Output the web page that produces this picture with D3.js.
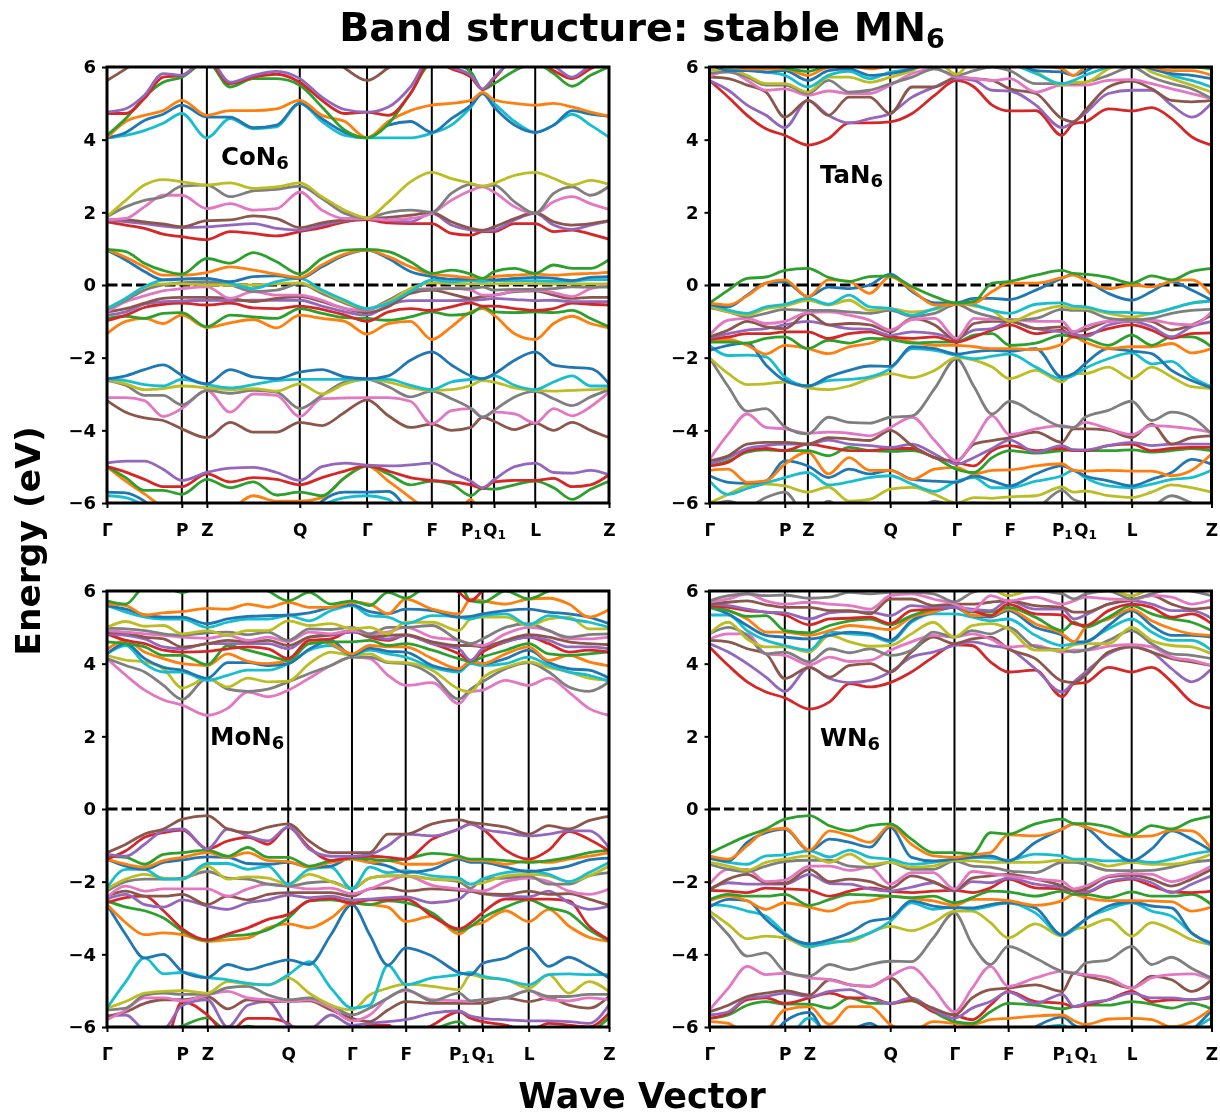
<!DOCTYPE html>
<html>
<head>
<meta charset="utf-8">
<script src="https://cdn.jsdelivr.net/npm/d3@7"></script>
<style>
  body { margin: 0; background: #fff; }
  svg { filter: blur(0.5px); }
  text { font-family: "DejaVu Sans", sans-serif; font-weight: bold; fill: #000; }
</style>
</head>
<body>
<svg id="chart" width="1220" height="1116"></svg>
<script>
const tickLabels = ['Γ', 'P', 'Z', 'Q', 'Γ', 'F', 'P1', 'Q1', 'L', 'Z'];
const energyTicks = [-6, -4, -2, 0, 2, 4, 6];

// sample grid along the k-path, in units of tick index (same for all panels)
const kSamples = [0, .25, .5, .75, 1, 2, 2.25, 2.5, 2.75, 3, 3.33, 3.67, 4, 4.33, 4.67, 5, 5.5, 6, 6.5, 7, 7.5, 8, 8.25, 8.5, 8.75, 9];

const coTicks = [0, .149, .199, .384, .518, .647, .725, .771, .853, 1];
const taTicks = [0, .150, .196, .360, .492, .598, .702, .748, .841, 1];
const moTicks = [0, .150, .200, .361, .488, .595, .701, .748, .840, 1];
const wTicks = [0, .150, .199, .360, .488, .595, .703, .749, .841, 1];

// bands run from lowest to highest, colours follow the tab10 cycle
const coBands = [
  [-5.8,-5.85,-6.1,-6.6,-7,-7,-7,-7,-7,-7,-6.1,-5.85,-5.8,-5.9,-6.6,-7,-7,-7,-7,-7,-7,-7,-7,-7,-7,-7],
  [-5.7,-5.72,-5.95,-6.4,-7,-7,-7,-7,-7,-7,-5.95,-5.7,-5.7,-5.68,-6.3,-7,-7,-7,-7,-7,-7,-7,-7,-7,-7,-7],
  [-5,-5.4,-5.75,-6.05,-6.05,-6.5,-6.2,-5.8,-5.95,-5.95,-5.85,-5.3,-4.98,-5.4,-5.85,-6.3,-6.6,-5.9,-6.4,-6.05,-6.5,-6.6,-6.5,-6.1,-6.5,-6.5],
  [-5,-5.3,-5.65,-5.65,-5.76,-5.35,-5.58,-5.42,-5.78,-5.7,-5.8,-5.3,-4.98,-5.2,-5.5,-5.4,-5.48,-5.8,-5.6,-5.62,-5.5,-5.4,-5.58,-5.9,-5.62,-5.4],
  [-5,-5.15,-5.35,-5.55,-5.55,-5.2,-5.42,-5.3,-5.35,-5.5,-5.3,-5.12,-4.98,-5.12,-5.3,-5.38,-5.42,-5.5,-5.6,-5.42,-5.38,-5.38,-5.32,-5.55,-5.5,-5.22],
  [-4.9,-4.85,-4.85,-5.07,-5.38,-5.16,-5.04,-5.02,-5.16,-5.38,-5,-4.9,-4.96,-4.98,-4.95,-4.9,-5.16,-5.4,-5.58,-5.36,-5,-4.9,-5.16,-5.18,-5.1,-5.22],
  [-3.18,-3.5,-3.66,-3.73,-3.96,-4.2,-3.78,-4.05,-4.05,-3.78,-3.87,-3.5,-3.16,-3.6,-3.92,-3.83,-4,-3.92,-3.64,-3.75,-3.98,-3.8,-4,-3.78,-4,-4.2],
  [-3.1,-3.1,-3.18,-3.62,-3.4,-2.9,-3.5,-3,-3.04,-3.62,-3.13,-3.11,-3.1,-3.1,-3.2,-3.82,-3.46,-3.4,-3.64,-3.5,-3.55,-3.8,-3.4,-3.6,-3.35,-2.95],
  [-2.63,-2.76,-3.04,-3.04,-3.3,-2.9,-2.98,-2.9,-2.95,-3.4,-3.04,-2.67,-2.6,-2.8,-3.08,-2.92,-3.13,-3.4,-3.64,-3.45,-3.08,-2.93,-3.13,-3.32,-3.08,-2.88],
  [-2.6,-2.72,-2.88,-2.85,-2.78,-2.83,-2.88,-2.85,-2.92,-2.72,-3,-2.72,-2.6,-2.67,-2.83,-2.9,-2.88,-2.76,-2.63,-2.67,-2.83,-2.9,-2.92,-2.9,-2.88,-2.85],
  [-2.58,-2.63,-2.74,-2.78,-2.6,-2.74,-2.83,-2.74,-2.63,-2.6,-2.6,-2.6,-2.6,-2.6,-2.76,-2.88,-2.67,-2.6,-2.58,-2.5,-2.76,-2.88,-2.67,-2.5,-2.78,-2.78],
  [-2.58,-2.5,-2.33,-2.2,-2.48,-2.72,-2.33,-2.53,-2.58,-2.4,-2.33,-2.53,-2.58,-2.5,-2.07,-1.84,-2.2,-2.5,-2.58,-2.45,-2.07,-1.84,-2.2,-2.27,-2.3,-2.72],
  [-1.34,-1,-.92,-1.06,-.83,-1.17,-1.04,-.95,-1.18,-.83,-.92,-1,-1.35,-1.06,-1,-1.5,-1.15,-.74,-.65,-.83,-1.34,-1.5,-1.06,-.86,-1.06,-1.18],
  [-.92,-.86,-.92,-.78,-.76,-1.15,-.83,-.88,-.92,-.65,-.78,-.9,-.92,-.97,-.88,-.74,-.83,-.78,-.6,-.74,-.76,-.74,-.76,-.7,-.92,-1.15],
  [-.98,-.83,-.62,-.53,-.5,-.55,-.5,-.63,-.65,-.58,-.67,-.83,-1,-.74,-.65,-.7,-.6,-.49,-.58,-.58,-.65,-.7,-.65,-.5,-.53,-.55],
  [-.83,-.74,-.53,-.46,-.44,-.42,-.43,-.42,-.42,-.42,-.58,-.74,-.83,-.55,-.43,-.43,-.43,-.42,-.4,-.37,-.4,-.43,-.42,-.46,-.46,-.46],
  [-.74,-.65,-.5,-.37,-.34,-.34,-.37,-.46,-.37,-.32,-.46,-.65,-.76,-.6,-.23,-.14,-.25,-.37,-.32,-.28,-.18,-.16,-.28,-.37,-.34,-.34],
  [-.74,-.46,-.3,-.16,-.1,-.05,-.37,-.18,-.28,-.28,-.42,-.65,-.7,-.42,-.14,-.1,-.1,-.14,-.28,-.28,-.16,-.14,-.21,-.32,-.1,0],
  [-.67,-.42,-.14,0,.06,.09,0,-.18,-.14,.03,-.23,-.5,-.67,-.42,-.14,-.12,-.1,-.1,-.06,-.14,-.12,-.12,-.1,-.05,-.06,-.06],
  [-.65,-.37,-.06,.03,.03,0,0,0,.03,.06,-.18,-.46,-.65,-.46,-.1,.06,.04,.03,.03,.03,.04,.04,.03,.03,.03,.04],
  [-.65,-.37,-.05,.14,.17,.17,.05,-.1,.09,.18,-.14,-.42,-.65,-.5,-.18,.14,.09,.12,.1,.12,.12,.12,.1,.1,.15,.15],
  [.96,.69,.37,.14,.16,.18,.09,.23,.25,.18,.5,.82,.96,.73,.37,.23,.16,.16,.18,.14,.18,.21,.18,.12,.21,.23],
  [.98,.76,.5,.27,.27,.34,.5,.41,.3,.21,.55,.85,.96,.78,.5,.3,.25,.2,.18,.23,.27,.3,.27,.3,.32,.35],
  [.98,.92,.6,.4,.3,.73,.6,.89,.64,.3,.73,.96,.98,.92,.64,.32,.41,.3,.18,.37,.46,.32,.55,.46,.46,.7],
  [1.74,1.65,1.56,1.4,1.33,1.25,1.47,1.42,1.35,1.47,1.58,1.74,1.8,1.71,1.69,1.69,1.42,1.37,1.47,1.47,1.69,1.69,1.47,1.51,1.4,1.26],
  [1.77,1.74,1.69,1.62,1.58,1.6,1.65,1.69,1.56,1.51,1.65,1.77,1.83,1.77,1.74,1.97,1.65,1.51,1.49,1.51,1.79,1.97,1.65,1.53,1.65,1.76],
  [1.79,1.79,1.74,1.68,1.6,1.77,1.79,1.9,1.83,1.58,1.71,1.79,1.83,1.86,1.92,1.99,1.74,1.56,1.51,1.6,1.83,1.99,1.74,1.65,1.69,1.77],
  [1.8,1.83,2.15,2.47,2.47,2.1,2.24,2.06,2.1,2.56,2.06,1.83,1.83,1.79,1.83,1.97,2.33,2.6,2.7,2.56,2.15,1.97,2.29,2.43,2.24,2.08],
  [1.88,2.15,2.33,2.43,2.72,2.75,2.43,2.59,2.63,2.72,2.38,1.97,1.85,2,2.06,2,2.52,2.77,2.72,2.75,2.29,1.97,2.52,2.7,2.47,2.72],
  [1.88,2.33,2.75,2.9,2.84,2.75,2.81,2.66,2.7,2.81,2.43,2.06,1.85,2.29,2.84,3.1,2.93,2.8,2.72,2.8,3.02,3.1,2.93,2.75,2.88,2.77],
  [4.05,4.12,4.25,4.45,4.72,4.05,4.58,4.3,4.35,5,4.5,4.12,4.05,4.05,4.05,4.18,4.4,4.9,5.27,5,4.5,4.2,4.4,4.7,4.4,4.07],
  [4.05,4.2,4.53,4.7,4.95,4.62,4.62,4.33,4.4,5,4.58,4.2,4.05,4.4,4.5,4.2,4.58,4.95,5.27,4.9,4.4,4.2,4.4,4.8,4.7,4.64],
  [4.05,4.5,4.67,4.8,5.08,4.67,4.8,4.8,4.85,5.08,4.67,4.5,4.05,4.5,4.8,4.95,5,5.08,5.3,5.1,5,4.95,5,4.9,4.76,4.65],
  [4.12,4.58,5.17,5.58,5.72,6.15,5.45,5.68,5.68,5.5,4.9,4.26,4.05,4.44,5.27,6.1,6.1,5.86,5.38,5.54,5.9,6.1,5.82,5.47,5.77,6],
  [4.72,4.72,5.13,5.72,5.77,6.2,5.54,5.72,5.8,5.58,5.08,4.72,4.76,4.67,5.27,6.2,5.95,5.72,5.38,5.68,6.2,6.2,5.9,5.68,5.95,6.2],
  [4.76,4.85,5.22,5.82,5.77,6.3,5.58,5.77,5.88,5.68,5.17,4.83,4.76,4.9,5.45,6.3,6,5.77,5.4,5.72,6.2,6.3,6.04,5.72,6.04,6.2],
  [5.63,5.95,6.3,6.5,6.5,6.5,6.5,6.5,6.5,6.5,6.5,5.97,5.63,5.98,6.4,6.5,6.5,6.5,6.5,6.5,6.5,6.5,6.5,6.5,6.5,6.5]
];

const taBands = [
  [-6.1,-5.95,-6.1,-5.85,-5.7,-6.4,-5.95,-6.4,-6.5,-6.5,-6.3,-5.95,-6.1,-6,-6.2,-6.1,-6.1,-5.65,-5.9,-6,-6.1,-6.2,-6.1,-5.8,-6,-6.2],
  [-6,-5.76,-5.53,-5.48,-5.53,-5.7,-5.56,-5.95,-5.9,-5.62,-5.57,-5.76,-6,-5.85,-5.87,-5.83,-5.8,-5.56,-5.7,-5.67,-5.8,-5.85,-5.7,-5.5,-5.58,-5.7],
  [-5.39,-5.76,-5.6,-5.45,-5.3,-5.16,-5.5,-5.42,-5.3,-5.25,-5.48,-5.68,-5.4,-5.3,-5.58,-5.58,-5.4,-5.25,-5.1,-5.3,-5.53,-5.58,-5.48,-5.35,-5.3,-5.1],
  [-5.25,-5.43,-5.46,-5.39,-4.84,-4.98,-5.3,-5.07,-5.2,-5.1,-5.35,-5.4,-5.43,-5.25,-5.39,-5.53,-5.2,-4.98,-5.1,-5.25,-5.39,-5.53,-5.35,-5.16,-4.8,-4.93],
  [-5.1,-5.07,-5.43,-5.39,-4.93,-4.6,-5.2,-4.75,-5.1,-5.1,-5.35,-5.07,-5.02,-5.2,-5.1,-5.09,-4.98,-4.92,-5.1,-5.12,-5.1,-5.12,-5.12,-5.25,-5.1,-4.65],
  [-4.98,-4.84,-4.6,-4.54,-4.56,-4.56,-4.7,-4.47,-4.56,-4.58,-4.56,-4.75,-5.07,-5.16,-4.75,-4.56,-4.63,-4.56,-4.54,-4.56,-4.56,-4.54,-4.6,-4.56,-4.5,-4.56],
  [-4.98,-4.88,-4.56,-4.5,-4.56,-4.38,-4.47,-4.56,-4.56,-4.5,-4.5,-4.75,-4.88,-4.98,-4.56,-4.42,-4.56,-4.5,-4.56,-4.56,-4.42,-4.38,-4.56,-4.5,-4.47,-4.47],
  [-4.92,-4.75,-4.5,-4.42,-4.38,-4.38,-4.27,-4.38,-4.42,-4.47,-4.38,-4.65,-4.93,-4.75,-4.5,-4.27,-4.6,-4.42,-4.54,-4.54,-4.42,-4.33,-4.42,-4.38,-4.38,-4.38],
  [-4.84,-4.7,-4.38,-4.33,-4.33,-4.38,-4.2,-4.24,-4.28,-4,-4.42,-4.75,-4.84,-4.38,-4.28,-4.2,-4.05,-4.33,-3.96,-3.96,-4,-4.2,-3.83,-4.38,-4.2,-4.15],
  [-4.8,-4.1,-3.55,-3.92,-3.96,-4.08,-4.05,-4.08,-4.15,-3.92,-3.64,-4.28,-4.84,-4.28,-3.6,-4.12,-3.96,-3.87,-3.92,-3.78,-3.96,-4.12,-3.87,-3.9,-3.96,-4.05],
  [-2,-2.8,-3.47,-3.4,-3.9,-4.1,-3.64,-3.78,-3.8,-3.64,-3.6,-2.85,-2.03,-2.8,-3.55,-3.2,-3.55,-3.9,-3.92,-3.64,-3.45,-3.2,-3.73,-3.5,-3.64,-4.1],
  [-2,-2.44,-2.74,-2.72,-2.67,-2.83,-2.88,-2.78,-2.58,-2.44,-2.55,-2.35,-2,-2.07,-2.26,-2.58,-2.35,-2.67,-2.44,-2.44,-2.26,-2.58,-2.26,-2.53,-2.8,-2.85],
  [-1.66,-1.94,-1.93,-1.98,-2.53,-2.78,-2.63,-2.6,-2.53,-2.3,-1.75,-1.8,-1.94,-2.03,-1.96,-1.9,-2.26,-2.58,-2.49,-2.3,-2.03,-1.87,-2.17,-2.1,-2.53,-2.8],
  [-1.8,-1.66,-1.6,-2.2,-2.63,-2.78,-2.53,-2.35,-2.23,-2.24,-1.7,-1.75,-1.9,-1.84,-1.8,-1.82,-1.75,-2.53,-2.44,-2.17,-1.75,-1.82,-1.89,-2.35,-2.63,-2.83],
  [-1.57,-1.5,-1.66,-1.9,-1.66,-1.75,-1.89,-1.7,-1.61,-1.43,-1.57,-1.66,-1.66,-1.7,-1.75,-1.75,-1.78,-1.63,-1.43,-1.57,-1.75,-1.7,-1.7,-1.61,-1.87,-1.75],
  [-1.57,-1.57,-1.6,-1.47,-1.43,-1.75,-1.52,-1.6,-1.47,-1.5,-1.6,-1.57,-1.57,-1.38,-1.34,-1.66,-1.6,-1.38,-1.43,-1.47,-1.66,-1.38,-1.66,-1.43,-1.43,-1.7],
  [-1.5,-1.43,-1.34,-1.34,-1.29,-1.29,-1.47,-1.34,-1.29,-1.43,-1.47,-1.43,-1.57,-1.43,-1.24,-1.1,-1.34,-1.24,-1.43,-1.38,-1.2,-1.1,-1.24,-1.47,-1.34,-1.32],
  [-1.45,-1.34,-1.24,-1.2,-1.1,-1,-1.1,-1.2,-1.22,-1.38,-1.29,-1.34,-1.47,-1.24,-1.2,-1,-1.2,-1.29,-1.34,-1.43,-1.1,-1,-1.15,-1.43,-1.15,-1],
  [-1.43,-1.24,-1,-1.15,-1.2,-.78,-1.1,-1.06,-1.1,-1.29,-.92,-1.1,-1.52,-1.06,-1,-1,-1.2,-1.15,-1.29,-1.24,-1,-.95,-1,-1.24,-1.1,-.83],
  [-1.38,-.97,-.92,-1.06,-1,-.76,-.74,-.83,-.97,-1.24,-.95,-.92,-1.47,-.92,-.95,-.95,-1,-1,-1.29,-1.15,-1,-.98,-.97,-1.06,-1.1,-.74],
  [-.62,-.74,-.88,-.78,-.67,-.7,-.7,-.74,-.78,-.7,-.86,-.78,-.53,-.74,-.88,-.97,-.92,-.67,-.7,-.7,-.92,-.97,-.92,-.78,-.7,-.67],
  [-.58,-.74,-.83,-.65,-.58,-.42,-.55,-.42,-.7,-.65,-.74,-.67,-.5,-.58,-.7,-1,-.74,-.58,-.65,-.65,-.78,-.88,-.78,-.65,-.5,-.44],
  [-.53,-.69,-.78,-.6,-.53,-.37,-.53,-.28,-.6,-.65,-.83,-.65,-.5,-.55,-.7,-.78,-.53,-.49,-.58,-.6,-.74,-.76,-.78,-.65,-.5,-.44],
  [-.53,-.6,-.28,.05,.09,-.32,-.06,-.1,0,.3,-.18,-.49,-.49,-.37,-.37,-.4,-.14,.18,.3,.15,-.23,-.42,-.18,.09,-.14,-.42],
  [-.5,-.55,-.3,.05,.14,-.32,.14,.1,-.23,.23,-.14,-.55,-.53,-.5,-.18,.05,.05,.2,.27,.14,-.1,0,-.05,.1,.14,-.28],
  [-.5,-.14,.18,.22,.4,.46,.21,.1,.23,.25,-.05,-.32,-.5,-.45,.05,.1,.27,.4,.32,.3,.21,.05,.25,.14,.37,.46],
  [5.63,5.17,4.67,4.3,4.12,3.85,4.03,4.46,4.46,4.49,4.72,5.22,5.63,5.45,4.95,4.79,4.8,4.12,4.44,4.49,4.85,4.79,4.88,4.58,4.08,3.85],
  [5.63,5.36,4.95,4.67,4.33,5.08,4.67,4.46,4.58,4.72,5.17,5.45,5.68,5.63,5.36,5.34,4.95,4.33,4.49,4.72,5.27,5.36,5.36,4.95,4.62,5],
  [5.72,5.68,5.5,5.31,4.62,5.08,4.67,5.17,5.17,4.72,5.45,5.45,5.72,5.68,5.63,5.4,5.27,4.58,4.49,4.8,5.45,5.61,5.4,5.08,5.04,5.08],
  [5.74,5.9,5.63,5.36,5.4,5.22,5.34,5.27,5.27,5.5,5.82,5.95,5.72,5.68,5.63,5.68,5.31,5.5,5.5,5.5,5.63,5.65,5.54,5.4,5.27,5.13],
  [5.83,5.86,5.72,5.5,5.5,5.27,5.63,5.31,5.36,5.54,5.72,5.95,5.77,5.9,6,5.9,5.54,5.54,5.54,5.58,5.77,6,5.72,5.54,5.4,5.13],
  [5.9,5.95,5.77,5.54,5.54,5.31,5.72,5.72,5.58,5.72,5.9,6.2,5.8,6.2,6.2,6.1,5.86,5.5,5.58,5.58,5.95,6.2,5.86,5.68,5.5,5.31],
  [6,6.04,5.95,5.86,5.77,5.45,5.77,5.88,5.68,5.86,5.95,6.2,6.2,6.2,6.2,6.1,5.82,5.54,5.63,5.77,6,6.2,6,5.77,5.63,5.45],
  [6.1,5.9,5.9,5.86,5.9,5.63,5.9,5.95,5.77,5.82,5.95,6.2,6.3,6.3,6.3,6.2,5.9,5.86,5.77,5.88,6.2,6.2,5.95,5.82,5.77,5.68],
  [6.1,6.04,5.95,5.95,5.95,5.77,6,6.04,5.95,6.04,6.2,6.3,6.3,6.3,6.3,6.3,6.04,5.95,5.77,6,6.2,6.2,6,5.9,5.9,5.77],
  [6.1,6.1,6.05,6.05,5.97,5.88,6.05,6.2,6.2,6.3,6.4,6.4,6.4,6.4,6.4,6.4,6.1,6.02,5.98,6.02,6.3,6.4,6.2,6,6,5.95]
];

const moBands = [
  [-6.5,-6.5,-6.5,-6.2,-5.97,-5.75,-6.1,-5.98,-6.1,-6.3,-6.5,-6.5,-6.5,-6.5,-6.5,-6.5,-6.1,-5.85,-6.1,-6.3,-6.5,-6.5,-6.5,-6.5,-6.2,-5.75],
  [-6.5,-6.5,-6.5,-6.5,-5.3,-5.67,-6.2,-5.76,-5.76,-5.9,-6.5,-6.5,-6.3,-5.95,-5.95,-6.3,-5.95,-5.58,-5.76,-5.85,-5.95,-6.1,-5.9,-5.95,-6,-5.62],
  [-5.7,-5.67,-6.05,-6.05,-5.4,-5.25,-6,-5.4,-5.3,-5.95,-6.05,-5.67,-5.95,-5.9,-5.85,-5.8,-5.62,-5.56,-5.7,-5.76,-5.8,-5.83,-5.83,-5.85,-5.9,-5.4],
  [-5.7,-5.58,-5.35,-5.25,-5.25,-5.16,-5.5,-5.25,-5.3,-5.3,-5.28,-5.53,-5.76,-5.85,-5.53,-5.3,-5.35,-5.35,-5.35,-5.35,-5.2,-5.3,-5.2,-5.4,-5.48,-5.16],
  [-5.8,-5.53,-5.2,-5.2,-5.28,-5.12,-5.02,-5.2,-5.25,-5.3,-5.25,-5.48,-5.83,-5.67,-5.2,-5,-5.25,-5.28,-5.3,-5.25,-5.2,-5,-5.25,-5.28,-5.2,-5.25],
  [-5.53,-5.48,-5.12,-5.07,-5.1,-5.1,-4.92,-4.88,-5.12,-5.25,-5.2,-5.4,-5.67,-5.48,-5.2,-4.97,-5.28,-5.07,-5.28,-5.25,-5.2,-5,-5.16,-5.16,-5.1,-5.1],
  [-5.48,-5.3,-5.07,-5.02,-5,-5.07,-4.75,-4.82,-4.84,-4.65,-5.07,-5.4,-5.53,-5.12,-4.93,-4.82,-4.88,-4.97,-4.56,-4.64,-4.7,-4.93,-4.56,-5.07,-4.75,-5.02],
  [-5.48,-4.75,-4.1,-4.54,-4.5,-4.64,-4.7,-4.8,-4.84,-4.56,-4.2,-4.93,-5.48,-5.4,-4.3,-4.84,-4.65,-4.56,-4.5,-4.6,-4.7,-4.84,-4.56,-4.54,-4.56,-4.56],
  [-2.63,-3.46,-4.1,-4,-4.47,-4.64,-4.28,-4.42,-4.28,-4.15,-4.28,-3.46,-2.63,-3.46,-4.3,-3.82,-4.05,-4.5,-4.56,-4.25,-4.1,-3.82,-4.33,-4.08,-4.33,-4.65],
  [-2.63,-3.13,-3.46,-3.41,-3.46,-3.64,-3.6,-3.55,-3.27,-3.16,-3.27,-3,-2.58,-2.63,-2.7,-3.1,-2.95,-3.44,-3.23,-3.13,-2.8,-3.1,-2.76,-3.22,-3.53,-3.64],
  [-2.53,-2.7,-2.8,-3,-3.36,-3.62,-3.5,-3.46,-3.32,-3,-2.53,-2.5,-2.58,-2.63,-2.53,-2.58,-2.86,-3.35,-3.23,-3,-2.7,-2.5,-2.72,-2.86,-3.32,-3.62],
  [-2.58,-2.44,-2.4,-2.8,-3.3,-3.6,-3.44,-3.27,-3.04,-2.9,-2.53,-2.46,-2.6,-2.5,-2.5,-2.48,-2.95,-3.3,-3.13,-2.86,-2.48,-2.48,-2.48,-2.53,-3.22,-3.6],
  [-2.48,-2.35,-2.63,-2.7,-2.5,-2.67,-2.76,-2.58,-2.5,-2.37,-2.44,-2.4,-2.5,-2.48,-2.44,-2.42,-2.58,-2.48,-2.26,-2.33,-2.4,-2.42,-2.26,-2.58,-2.76,-2.67],
  [-2.4,-2.26,-2.4,-2.4,-2.35,-2.63,-2.4,-2.5,-2.35,-2.3,-2.3,-2.3,-2.4,-2.2,-2.17,-2.26,-2.2,-2.24,-2.26,-2.33,-2.35,-2.26,-2.35,-2.33,-2.48,-2.65],
  [-2.44,-2.12,-2.26,-2.2,-2.2,-2.2,-2.4,-2.2,-2.07,-2.12,-2.2,-2.18,-2.33,-2.2,-2,-1.84,-2.1,-2.2,-2.24,-2.26,-2,-1.9,-2,-2.26,-2.35,-2.2],
  [-2.26,-2,-1.93,-1.93,-1.9,-1.72,-1.9,-1.93,-2.07,-2.12,-2.03,-2,-2.2,-1.9,-1.84,-1.84,-1.93,-2,-2.18,-1.93,-1.9,-1.84,-2.07,-2.07,-1.84,-1.75],
  [-2.2,-1.93,-1.8,-1.9,-1.93,-1.57,-1.93,-1.87,-1.9,-2.07,-1.8,-2,-2.18,-1.9,-1.84,-1.84,-1.93,-1.96,-2.07,-2.03,-1.84,-1.8,-1.84,-2,-1.84,-1.57],
  [-2.17,-1.66,-1.66,-1.93,-1.93,-1.5,-1.5,-1.66,-1.57,-2.07,-1.66,-1.6,-2.2,-1.6,-1.75,-1.7,-1.84,-1.9,-2.07,-1.93,-1.75,-1.7,-1.8,-2,-1.75,-1.47],
  [-1.38,-1.57,-1.66,-1.47,-1.4,-1.32,-1.33,-1.5,-1.52,-1.47,-1.6,-1.57,-1.33,-1.47,-1.57,-1.75,-1.66,-1.38,-1.47,-1.47,-1.6,-1.72,-1.66,-1.57,-1.4,-1.35],
  [-1.38,-1.52,-1.6,-1.42,-1.33,-1.2,-1.33,-1.2,-1.42,-1.45,-1.6,-1.47,-1.38,-1.47,-1.42,-1.52,-1.52,-1.33,-1.42,-1.42,-1.52,-1.42,-1.47,-1.38,-1.3,-1.2],
  [-1.3,-1.33,-1.52,-1.25,-1.2,-1.13,-1.3,-1.06,-1.33,-1.33,-1.57,-1.42,-1.35,-1.38,-1.42,-1.38,-1.22,-1.3,-1.38,-1.38,-1.42,-1.47,-1.42,-1.33,-1.2,-1.13],
  [-1.38,-1.15,-.78,-.65,-.58,-1.1,-.88,-.78,-.97,-.5,-1.06,-1.42,-1.33,-1.3,-1.33,-1.38,-.83,-.55,-.41,-.55,-1.13,-1.38,-1.13,-.62,-.83,-1.15],
  [-1.25,-1.3,-.97,-.6,-.55,-1.1,-.55,-.74,-.88,-.49,-1.1,-1.3,-1.3,-1.25,-1.01,-.69,-.74,-.55,-.41,-.55,-.65,-.74,-.69,-.6,-.6,-1.06],
  [-1.2,-.97,-.69,-.55,-.28,-.18,-.55,-.65,-.5,-.41,-.88,-1.2,-1.2,-1.2,-.69,-.69,-.41,-.3,-.37,-.41,-.5,-.69,-.46,-.55,-.32,-.2],
  [4.14,3.68,3.27,3,2.86,2.58,2.77,3.22,3.09,3.27,3.6,3.95,4.18,4.14,3.68,3.4,3.48,2.9,3.22,3.27,3.54,3.4,3.6,3.22,2.77,2.58],
  [4.14,3.95,3.77,3.4,3.02,3.6,3.3,3.24,3.3,3.5,3.73,3.95,4.18,4.18,4.03,4,3.68,3.02,3.3,3.5,3.86,4.03,3.77,3.36,3.24,3.5],
  [4.23,4.1,4.05,3.86,3.33,3.6,3.36,3.6,3.5,3.52,4,4.32,4.23,4.27,4.05,4.03,3.82,3.3,3.22,3.6,3.9,4.05,3.9,3.77,3.6,3.54],
  [4.27,4.5,4,3.77,3.77,3.54,3.68,3.82,3.82,4,4.37,4.5,4.23,4.37,4.27,4.18,3.9,3.77,4,3.95,4,4.18,3.95,3.77,3.68,3.52],
  [4.27,4.55,4.14,3.9,3.82,3.6,4.03,4.03,3.95,4,4.4,4.64,4.23,4.43,4.34,4.32,3.95,3.82,4.06,4,4.14,4.37,4.03,3.86,3.82,3.6],
  [4.39,4.64,4.32,4.14,4,3.95,4.27,4.06,4,4.09,4.64,4.55,4.27,4.5,4.46,4.46,4.14,3.86,4.06,4,4.27,4.46,4.09,4.23,4.05,3.94],
  [4.6,4.55,4.46,4.23,4.23,3.97,4.5,4.37,4.23,4.09,4.55,4.6,4.6,4.64,4.5,4.55,4.37,4.14,4.06,4.18,4.37,4.55,4.27,4.23,4.27,4.32],
  [4.82,4.64,4.55,4.37,4.32,4.34,4.41,4.46,4.41,4.14,4.64,4.68,4.91,4.73,4.64,4.78,4.55,4.27,4.09,4.32,4.6,4.73,4.55,4.32,4.37,4.32],
  [4.82,4.78,4.68,4.46,4.41,4.55,4.55,4.55,4.55,4.41,4.73,4.78,4.87,4.78,4.68,4.78,4.55,4.41,4.09,4.41,4.6,4.73,4.64,4.46,4.46,4.41],
  [4.87,4.85,4.73,4.68,4.46,4.55,4.64,4.6,4.64,4.5,4.73,4.8,4.91,4.73,4.78,4.8,4.6,4.5,4.5,4.46,4.64,4.8,4.73,4.6,4.55,4.52],
  [4.91,4.87,4.82,4.78,4.73,4.7,4.78,4.64,4.73,4.6,4.87,4.82,4.91,4.82,4.87,5,4.73,4.64,4.55,4.5,4.82,5,4.91,4.68,4.68,4.73],
  [4.98,4.96,4.91,4.82,4.78,4.85,4.87,4.8,4.87,4.64,4.96,4.94,5,4.82,5,5,5.05,4.64,4.55,4.68,5,5.1,4.91,4.73,4.8,4.82],
  [5,5.16,5.03,5.05,4.82,4.91,4.78,4.91,4.91,5.18,5.05,5.1,4.96,5,4.82,5.14,5.14,4.91,5.23,5.28,5.28,5.05,5.23,5.28,4.96,4.96],
  [5.6,5.42,5.28,5.23,5.23,5,5.14,5.23,5.23,5.32,5.18,5.46,5.6,5.32,5.28,5.1,5.32,5.28,5.23,5.32,5.37,5.07,5.32,5.23,5.14,5],
  [5.6,5.5,5.34,5.28,5.28,5.1,5.23,5.3,5.32,5.34,5.4,5.55,5.62,5.43,5.37,5.5,5.46,5.28,5.3,5.37,5.46,5.5,5.42,5.37,5.28,5.1],
  [5.64,5.6,5.34,5.4,5.43,5.52,5.5,5.64,5.55,5.69,5.55,5.55,5.69,5.64,5.37,5.78,5.5,5.37,5.78,5.73,5.64,5.78,5.8,5.64,5.28,5.49],
  [5.73,5.64,6.1,6.1,5.96,6.2,6.2,6.2,6,5.73,5.96,5.64,5.73,5.6,5.96,5.8,6.2,6.2,5.73,5.69,6,5.78,6,6.2,6.2,6.2],
  [6.4,6.4,6.4,6.4,6.4,6.4,6.4,6.4,6.4,6.4,6.4,6.4,6.4,6.4,6.4,6.4,6.4,5.96,5.73,6,6.4,6.4,6.4,6.4,6.4,6.4]
];

const wBands = [
  [-6.5,-6.5,-6.5,-6.5,-6.4,-5.75,-6.3,-6.5,-6.5,-6.5,-6.5,-6.5,-6.5,-6.5,-6.5,-6.5,-6.1,-5.95,-6.2,-6.4,-6.5,-6.5,-6.5,-6.5,-6.1,-5.75],
  [-6.5,-6.5,-6.5,-6.4,-5.85,-5.6,-6.3,-6.1,-5.9,-6.3,-6.5,-6.5,-6.3,-6.5,-6.5,-6.5,-6,-5.72,-5.95,-6.1,-6.4,-6.5,-6.5,-6.5,-6.1,-5.55],
  [-5.85,-5.9,-6.2,-6.1,-5.53,-5.44,-5.93,-5.44,-5.44,-5.93,-6.13,-5.85,-5.9,-5.93,-5.8,-5.76,-5.7,-5.67,-5.83,-5.93,-5.78,-5.76,-5.8,-6,-5.85,-5.5],
  [-5.76,-5.67,-5.4,-5.3,-5.37,-5.37,-5.48,-5.2,-5.35,-5.35,-5.28,-5.58,-5.85,-5.9,-5.58,-5.35,-5.4,-5.5,-5.44,-5.4,-5.4,-5.3,-5.37,-5.48,-5.35,-5.5],
  [-5.76,-5.62,-5.25,-5.2,-5.35,-5.2,-5.07,-5.2,-5.2,-5.35,-5.25,-5.58,-5.67,-5.8,-5.4,-5.02,-5.3,-5.35,-5.44,-5.4,-5.25,-5.02,-5.3,-5.25,-5.25,-5.2],
  [-5.67,-5.58,-5.2,-5.16,-5.07,-5.16,-5.02,-4.97,-5.2,-5.35,-5.2,-5.53,-5.76,-5.48,-5.3,-5.04,-5.35,-5.1,-5.44,-5.35,-5.25,-5.07,-5.2,-5.2,-5.25,-5.16],
  [-5.58,-5.4,-5.16,-5.07,-5,-5.12,-4.7,-4.84,-4.88,-4.65,-5.2,-5.48,-5.67,-5.2,-4.97,-4.93,-4.84,-5.02,-4.52,-4.6,-4.75,-4.93,-4.6,-4.7,-5.02,-4.7],
  [-5.53,-4.93,-4.33,-4.56,-4.52,-4.65,-4.7,-4.84,-4.88,-4.6,-4.36,-4.93,-5.58,-4.93,-4.33,-4.88,-4.65,-4.47,-4.52,-4.56,-4.65,-4.93,-4.65,-4.56,-4.54,-4.7],
  [-2.9,-3.46,-4.05,-3.96,-4.47,-4.6,-4.28,-4.42,-4.28,-4.19,-4.2,-3.55,-2.86,-3.73,-4.28,-3.78,-4.1,-4.47,-4.52,-4.24,-4.15,-3.78,-4.28,-4.08,-4.38,-4.65],
  [-2.81,-3.18,-3.57,-3.5,-3.55,-3.8,-3.64,-3.64,-3.41,-3.23,-3.35,-3.13,-2.81,-2.81,-3.13,-3.55,-3.16,-3.5,-3.32,-3.25,-3.04,-3.5,-3.13,-3.32,-3.6,-3.73],
  [-2.63,-2.67,-2.81,-2.95,-3.41,-3.78,-3.69,-3.6,-3.41,-3.09,-2.58,-2.76,-2.7,-2.76,-2.67,-2.58,-2.86,-3.47,-3.32,-3.04,-2.76,-2.58,-2.81,-2.95,-3.41,-3.75],
  [-2.7,-2.49,-2.52,-3.04,-3.46,-3.71,-3.6,-3.41,-3.09,-3,-2.53,-2.67,-2.72,-2.72,-2.63,-2.58,-2.72,-3.47,-3.27,-3.04,-2.67,-2.56,-2.67,-2.72,-3.41,-3.69],
  [-2.53,-2.4,-2.53,-2.76,-2.58,-2.7,-2.81,-2.6,-2.53,-2.4,-2.46,-2.53,-2.65,-2.49,-2.49,-2.52,-2.65,-2.52,-2.35,-2.44,-2.52,-2.52,-2.53,-2.55,-2.81,-2.7],
  [-2.49,-2.35,-2.4,-2.4,-2.35,-2.65,-2.49,-2.35,-2.37,-2.4,-2.44,-2.4,-2.58,-2.44,-2.26,-2.28,-2.4,-2.26,-2.35,-2.35,-2.44,-2.28,-2.4,-2.4,-2.35,-2.63],
  [-2.24,-2.26,-2.3,-2.18,-2.2,-2.24,-2.4,-2.26,-2.17,-2.26,-2.3,-2.26,-2.24,-2.3,-2.17,-1.93,-2.17,-2.2,-2.26,-2.3,-2.03,-1.93,-2.12,-2.28,-2.3,-2.26],
  [-2.2,-2.03,-2.07,-2.07,-2.07,-1.8,-2.05,-2.07,-2.2,-2.26,-2.15,-2.03,-2.26,-2,-2.03,-1.9,-2.07,-2.17,-2.26,-2.28,-2,-1.9,-2.03,-2.3,-2.07,-1.84],
  [-2.24,-1.93,-1.8,-2.03,-2.05,-1.66,-2,-1.93,-2,-2.18,-1.84,-2,-2.24,-1.9,-1.84,-1.8,-1.93,-2.12,-2.26,-2.2,-1.87,-1.82,-1.93,-2.12,-1.93,-1.66],
  [-2.07,-1.66,-1.66,-2,-1.96,-1.57,-1.57,-1.69,-1.6,-2.07,-1.75,-1.75,-2.2,-1.72,-1.78,-1.84,-1.93,-2,-2.2,-2.12,-1.84,-1.78,-1.8,-2,-1.84,-1.57],
  [-1.52,-1.66,-1.72,-1.57,-1.45,-1.41,-1.41,-1.57,-1.6,-1.47,-1.66,-1.66,-1.43,-1.57,-1.6,-1.7,-1.75,-1.47,-1.47,-1.52,-1.69,-1.7,-1.69,-1.6,-1.47,-1.41],
  [-1.47,-1.57,-1.69,-1.47,-1.38,-1.29,-1.47,-1.24,-1.52,-1.47,-1.6,-1.57,-1.41,-1.43,-1.47,-1.47,-1.47,-1.41,-1.43,-1.41,-1.57,-1.47,-1.52,-1.52,-1.43,-1.24],
  [-1.35,-1.47,-1.52,-1.29,-1.26,-1.15,-1.32,-1.13,-1.33,-1.38,-1.52,-1.47,-1.38,-1.33,-1.35,-1.41,-1.24,-1.29,-1.38,-1.38,-1.43,-1.41,-1.47,-1.38,-1.24,-1.15],
  [-1.35,-1.43,-.92,-.65,-.55,-1.15,-.83,-.92,-1.05,-.5,-1.33,-1.43,-1.38,-1.33,-1.29,-1.43,-.92,-.55,-.41,-.5,-1.06,-1.43,-1.1,-.6,-.83,-1.15],
  [-1.29,-1.38,-1.01,-.6,-.53,-1.13,-.6,-.74,-.92,-.46,-.97,-1.29,-1.33,-1.26,-1.2,-.71,-.74,-.55,-.41,-.49,-.69,-.76,-.74,-.58,-.6,-1.1],
  [-1.22,-.97,-.74,-.55,-.28,-.18,-.46,-.6,-.46,-.41,-.83,-1.2,-1.2,-1.24,-.65,-.69,-.41,-.28,-.4,-.4,-.5,-.72,-.46,-.55,-.32,-.2],
  [4.46,3.95,3.5,3.22,3.06,2.75,2.95,3.45,3.36,3.48,3.77,4.18,4.52,4.5,4.05,3.77,3.82,3.09,3.45,3.48,3.9,3.77,3.9,3.5,2.95,2.77],
  [4.55,4.32,4,3.63,3.24,3.9,3.59,3.48,3.54,3.77,4.18,4.32,4.5,4.6,4.5,4.41,3.86,3.22,3.5,3.77,4.27,4.46,4.32,3.86,3.5,3.86],
  [4.64,4.6,4.41,4.27,3.59,3.9,3.63,3.95,4,3.77,4.32,4.73,4.55,4.68,4.73,4.41,4.14,3.52,3.48,3.68,4.32,4.46,4.32,4.14,4.05,3.95],
  [4.68,4.82,4.82,4.27,4.23,3.97,4.18,4.06,4.09,4.37,4.6,4.78,4.73,4.82,4.68,4.46,4.5,4.32,4.37,4.37,4.48,4.52,4.46,4.18,4.09,3.95],
  [4.82,5,4.78,4.27,4.32,4.05,4.41,4.3,4.41,4.23,4.37,4.87,4.73,4.91,4.82,5,4.46,4.37,4.32,4.37,4.64,4.91,4.55,4.27,4.23,4.14],
  [4.82,5.14,4.68,4.46,4.46,4.32,4.78,4.6,4.48,4.5,4.82,5.14,4.73,5.05,5.1,4.96,4.37,4.37,4.52,4.55,4.55,5,4.64,4.5,4.46,4.27],
  [5.34,5.34,4.91,4.64,4.5,4.37,4.87,4.82,4.78,4.6,5.14,5.37,5.37,5.28,5.18,5.23,4.78,4.5,4.55,4.6,4.96,5.23,4.87,4.64,4.64,4.37],
  [5.55,5.37,5.05,4.78,4.73,4.68,4.78,4.87,4.82,4.64,5.18,5.42,5.55,5.32,5.28,5.46,5,4.78,4.6,4.6,5.05,5.46,5.05,4.78,4.78,4.73],
  [5.55,5.46,5.23,4.87,4.87,4.78,4.91,5.05,5,4.94,5.28,5.42,5.6,5.32,5.32,5.5,5.1,4.82,4.6,5,5.23,5.5,5.18,4.96,4.82,4.78],
  [5.55,5.46,5.3,5.32,4.91,4.85,5.05,5.18,5.23,5.07,5.32,5.5,5.62,5.42,5.42,5.55,5.28,4.91,5.14,5,5.28,5.6,5.37,5.23,5.14,4.91],
  [5.6,5.55,5.46,5.42,5.34,5.07,5.23,5.25,5.28,5.1,5.46,5.5,5.55,5.46,5.32,5.64,5.37,5.34,5.1,5.05,5.46,5.64,5.55,5.28,5.37,5.1],
  [5.64,5.6,5.5,5.42,5.4,5.23,5.4,5.43,5.42,5.32,5.6,5.55,5.55,5.5,5.46,5.73,5.5,5.5,5.23,5.34,5.64,5.73,5.64,5.46,5.46,5.25],
  [5.64,5.69,5.73,5.62,5.55,5.55,5.46,5.46,5.37,5.78,5.78,5.6,5.64,5.64,5.69,5.73,5.6,5.55,5.42,5.42,5.64,5.76,5.87,5.64,5.5,5.55],
  [5.7,5.78,5.92,5.73,5.64,5.69,5.64,5.6,5.5,5.87,5.92,5.78,5.64,5.46,5.87,5.73,5.83,5.64,5.73,5.83,5.78,5.76,5.87,5.83,5.64,5.76],
  [5.73,5.87,5.92,5.87,5.89,5.8,5.83,5.96,5.92,5.96,5.96,5.92,5.7,5.96,6.05,6,6,5.92,5.78,5.92,6,5.78,5.92,6.05,6,5.87],
  [6.3,6.3,6.3,6.3,6.3,6.3,6.3,6.2,6.02,6.2,6.3,6.3,6.2,6.2,6.1,5.87,6.1,6.3,6.3,6.3,6.1,5.87,6.1,6.3,6.3,6.3]
];

const panels = [
  { name: 'Co', bands: coBands, ticks: coTicks, firstColor: 9, left: 107, top: 67, labelX: 221, labelY: 165 },
  { name: 'Ta', bands: taBands, ticks: taTicks, firstColor: 7, left: 709.5, top: 67, labelX: 820, labelY: 183 },
  { name: 'Mo', bands: moBands, ticks: moTicks, firstColor: 2, left: 107, top: 591, labelX: 210, labelY: 745 },
  { name: 'W', bands: wBands, ticks: wTicks, firstColor: 9, left: 709.5, top: 591, labelX: 820, labelY: 746 }
];

const WIDTH = 502;
const HEIGHT = 436;
const colors = d3.schemeCategory10;
const svg = d3.select('#chart');

function addSubscript(sel, base, sub, size) {
  sel.text(null);
  sel.append('tspan').text(base);
  sel.append('tspan').attr('dy', size * 0.2).style('font-size', `${size * 0.72}px`).text(sub);
}

panels.forEach((p, i) => {
  const xScale = d3.scaleLinear().domain([0, 1]).range([0, WIDTH]);
  const yScale = d3.scaleLinear().domain([-6, 6]).range([HEIGHT, 0]);
  const pathScale = d3.scaleLinear().domain(d3.range(p.ticks.length)).range(p.ticks);

  const g = svg.append('g').attr('transform', `translate(${p.left}, ${p.top})`);
  svg.append('clipPath').attr('id', `clip${i}`)
    .append('rect').attr('width', WIDTH).attr('height', HEIGHT);

  const plot = g.append('g').attr('clip-path', `url(#clip${i})`);
  const line = d3.line()
    .x((d, j) => xScale(pathScale(kSamples[j])))
    .y(d => yScale(d))
    .curve(d3.curveMonotoneX);

  plot.selectAll('line.sym').data(p.ticks.slice(1, -1)).join('line')
    .attr('class', 'sym')
    .attr('x1', d => xScale(d)).attr('x2', d => xScale(d))
    .attr('y1', 0).attr('y2', HEIGHT)
    .attr('stroke', '#000').attr('stroke-width', 2);

  plot.append('line')
    .attr('x1', 0).attr('x2', WIDTH)
    .attr('y1', yScale(0)).attr('y2', yScale(0))
    .attr('stroke', '#000').attr('stroke-width', 2.8)
    .attr('stroke-dasharray', '10.5,4');

  plot.selectAll('path.band').data(p.bands).join('path')
    .attr('class', 'band')
    .attr('d', line)
    .attr('fill', 'none')
    .attr('stroke', (d, j) => colors[(p.firstColor + j) % 10])
    .attr('stroke-width', 2.8);

  const xAxis = d3.axisBottom(xScale)
    .tickValues(p.ticks)
    .tickFormat((d, j) => tickLabels[j])
    .tickSize(5).tickPadding(16);
  const yAxis = d3.axisLeft(yScale)
    .tickValues(energyTicks)
    .tickSize(5).tickPadding(6);

  const xG = g.append('g').attr('transform', `translate(0, ${HEIGHT})`).call(xAxis);
  const yG = g.append('g').call(yAxis);
  xG.selectAll('text').style('font-size', '17px');
  yG.selectAll('text').style('font-size', '18px');
  xG.selectAll('text')
    .filter((d, j) => tickLabels[j].length > 1)
    .each(function (d, j) {
      const t = d3.select(this).text();
      addSubscript(d3.select(this), t[0], t[1], 17);
    });
  [xG, yG].forEach(a => {
    a.select('.domain').remove();
    a.selectAll('line').attr('stroke', '#000').attr('stroke-width', 2);
  });

  g.append('rect')
    .attr('width', WIDTH).attr('height', HEIGHT)
    .attr('fill', 'none').attr('stroke', '#000').attr('stroke-width', 3);

  const label = svg.append('text')
    .attr('x', p.labelX).attr('y', p.labelY)
    .style('font-size', '24.5px');
  label.append('tspan').text(p.name + 'N');
  label.append('tspan').attr('dy', 4).style('font-size', '18px').text('6');
});

const title = svg.append('text')
  .attr('x', 642).attr('y', 41)
  .attr('text-anchor', 'middle')
  .style('font-size', '39.5px');
title.append('tspan').text('Band structure: stable MN');
title.append('tspan').attr('dy', 7).style('font-size', '27px').text('6');

svg.append('text')
  .attr('transform', 'translate(40, 541) rotate(-90)')
  .attr('text-anchor', 'middle')
  .style('font-size', '34.5px')
  .text('Energy (eV)');

svg.append('text')
  .attr('x', 642).attr('y', 1107.5)
  .attr('text-anchor', 'middle')
  .style('font-size', '35px')
  .text('Wave Vector');
</script>
</body>
</html>
